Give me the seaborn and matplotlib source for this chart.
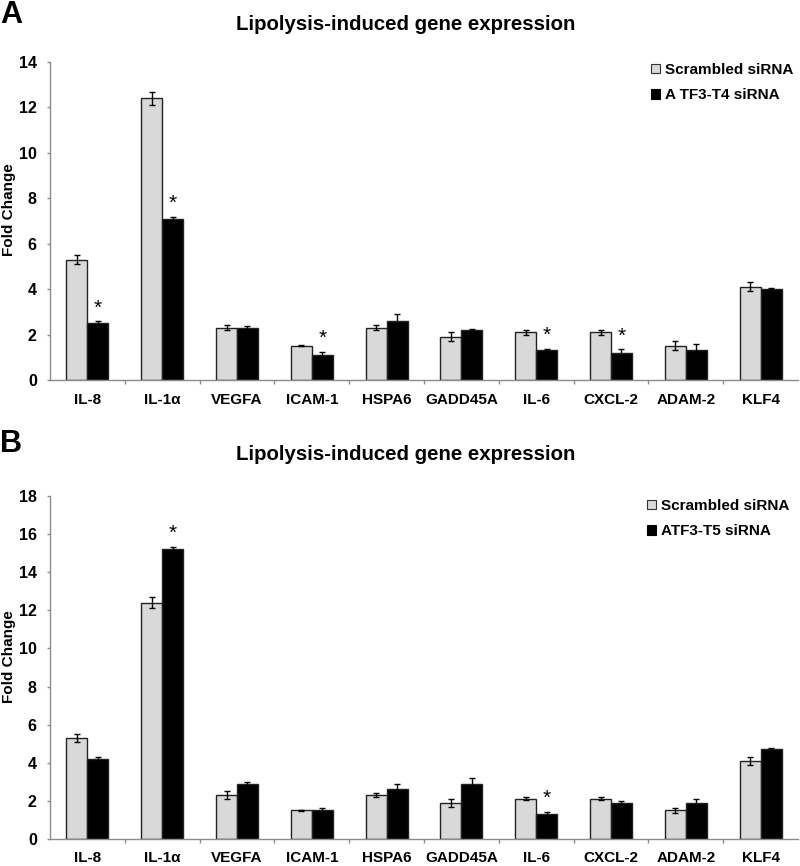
import matplotlib
matplotlib.use("Agg")
import matplotlib.pyplot as plt
import seaborn as sns
import pandas as pd
import numpy as np
from matplotlib.patches import Patch

genes = ["IL-8", "IL-1α", "VEGFA", "ICAM-1", "HSPA6", "GADD45A", "IL-6", "CXCL-2", "ADAM-2", "KLF4"]

scr_vals = [5.3, 12.4, 2.3, 1.5, 2.3, 1.9, 2.1, 2.1, 1.5, 4.1]
scr_err = [0.2, 0.3, 0.1, 0.02, 0.1, 0.2, 0.1, 0.1, 0.2, 0.2]

t4_vals = [2.5, 7.1, 2.3, 1.1, 2.6, 2.2, 1.3, 1.2, 1.3, 4.0]
t4_err = [0.08, 0.08, 0.08, 0.15, 0.3, 0.06, 0.08, 0.15, 0.3, 0.06]
t4_sig = [True, True, False, True, False, False, True, True, False, False]

t5_vals = [4.2, 15.2, 2.9, 1.5, 2.6, 2.9, 1.3, 1.9, 1.9, 4.7]
t5_err = [0.1, 0.1, 0.1, 0.15, 0.3, 0.3, 0.1, 0.08, 0.2, 0.08]
t5_sig = [False, True, False, False, False, False, True, False, False, False]

scr_err_b = [0.2, 0.3, 0.2, 0.03, 0.1, 0.2, 0.08, 0.08, 0.15, 0.2]

FONT = "Liberation Sans"
plt.rcParams["font.family"] = [FONT, "DejaVu Sans"]
plt.rcParams["font.weight"] = "bold"

W, H = 800, 866
fig = plt.figure(figsize=(W / 100, H / 100), dpi=100)

LIGHT = "#d9d9d9"
SPINE = "#8c8c8c"


def panel(ax, vals2, err1, err2, sig2, label2, ymax, title, letter,
          letter_top, title_y, ylabel_y, legend_xy):
    df = pd.DataFrame({
        "gene": genes * 2,
        "value": scr_vals + vals2,
        "group": ["Scrambled siRNA"] * len(genes) + [label2] * len(genes),
    })
    sns.barplot(data=df, x="gene", y="value", hue="group", order=genes,
                hue_order=["Scrambled siRNA", label2],
                palette=[LIGHT, "black"], width=0.56, gap=0, errorbar=None,
                edgecolor="#222222", linewidth=1.0, saturation=1, ax=ax, legend=False)
    errs = [err1, err2]
    bar_conts = list(ax.containers)
    for ci, cont in enumerate(bar_conts):
        xs = [p.get_x() + p.get_width() / 2 for p in cont.patches]
        hs = [p.get_height() for p in cont.patches]
        ax.errorbar(xs, hs, yerr=errs[ci], fmt="none", ecolor="black",
                    elinewidth=1.0, capsize=2.0, capthick=1.0, zorder=5)
        if ci == 1:
            for x, h, e, s in zip(xs, hs, errs[ci], sig2):
                if s:
                    ax.text(x, h + e + ymax * 0.012, "*", ha="center", va="bottom",
                            fontsize=15, fontweight="normal", color="black")
    ax.set_xlim(-0.5, len(genes) - 0.5)
    ax.set_ylim(0, ymax)
    ax.set_yticks(np.arange(0, ymax + 1, 2))
    ax.set_xlabel("")
    ax.set_ylabel("")
    for s in ["top", "right"]:
        ax.spines[s].set_visible(False)
    ax.spines["left"].set_color(SPINE)
    ax.spines["bottom"].set_color(SPINE)
    ax.spines["left"].set_linewidth(1.0)
    ax.spines["bottom"].set_linewidth(1.0)
    ax.tick_params(axis="y", colors=SPINE, labelcolor="black", labelsize=11.5,
                   length=2, width=1, direction="out", pad=7.5)
    ax.tick_params(axis="x", length=0, labelsize=11, labelcolor="black", pad=9)
    ax.set_xticks(np.arange(0.5, len(genes) - 0.5, 1), minor=True)
    ax.tick_params(axis="x", which="minor", length=3, width=1, colors=SPINE, direction="out")
    for lab in ax.get_xticklabels() + ax.get_yticklabels():
        lab.set_fontweight("bold")
    handles = [Patch(facecolor=LIGHT, edgecolor="#333333", linewidth=0.8, label="Scrambled siRNA"),
               Patch(facecolor="black", edgecolor="black", linewidth=0.8, label=label2)]
    ax.legend(handles=handles, loc="upper left",
              bbox_to_anchor=(legend_xy[0] / W, 1 - legend_xy[1] / H),
              bbox_transform=fig.transFigure, borderpad=0, borderaxespad=0,
              frameon=False, handlelength=0.6, handleheight=0.6, handletextpad=0.3,
              labelspacing=0.75, prop={"family": FONT, "weight": "bold", "size": 11})
    fig.text(406 / W, 1 - title_y / H, title, ha="center", va="center", fontsize=14.7, fontweight="bold")
    fig.text(0.0, 1 - letter_top / H, letter, ha="left", va="top", fontsize=22, fontweight="bold")
    fig.text(9 / W, 1 - ylabel_y / H, "Fold Change", rotation=90, ha="center", va="center",
             fontsize=11, fontweight="bold")


axA = fig.add_axes([0.0625, 0.5612, 0.935, 0.3672])
panel(axA, t4_vals, scr_err, t4_err, t4_sig, "A TF3-T4 siRNA", 14,
      "Lipolysis-induced gene expression", "A", 0, 25, 210, (651, 63))

axB = fig.add_axes([0.0625, 0.0312, 0.935, 0.3961])
panel(axB, t5_vals, scr_err_b, t5_err, t5_sig, "ATF3-T5 siRNA", 18,
      "Lipolysis-induced gene expression", "B", 429, 454, 657, (647, 499))

fig.savefig("out.png", dpi=100)
